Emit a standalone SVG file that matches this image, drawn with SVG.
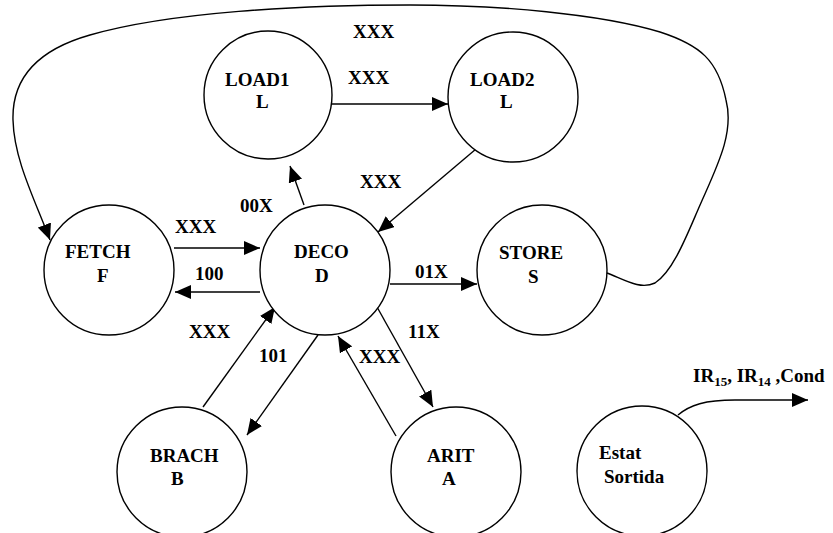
<svg xmlns="http://www.w3.org/2000/svg" width="833" height="533" viewBox="0 0 833 533">
<style>
.n{fill:#fff;stroke:#000;stroke-width:1.4}
.t{font-family:'Liberation Serif','Times New Roman','DejaVu Serif',serif;font-weight:700;font-size:19px;fill:#000}
.c{fill:none;stroke:#000;stroke-width:1.4}
.a{marker-end:url(#ah)}
</style>
<defs>
<marker id="ah" markerUnits="userSpaceOnUse" markerWidth="16" markerHeight="14" refX="16" refY="7" orient="auto">
<path d="M0,0 L16,7 L0,14 z" fill="#000"/>
</marker>
</defs>
<g id="connectors">
<path class="c a" d="M607,273 C625,280 640,290 655,283 C672,272 685,240 697,212 C715,170 735,135 726,100 C718,60 700,45 660,32 C600,14 500,5 410,5 C300,5 170,12 90,35 C30,52 12,85 13,120 C14,160 35,200 50,240"/>
<line class="c a" x1="332" y1="104" x2="448" y2="104"/>
<line class="c a" x1="476" y1="149" x2="378" y2="232"/>
<line class="c a" x1="304" y1="205" x2="290" y2="166"/>
<line class="c a" x1="174" y1="248" x2="260" y2="248"/>
<line class="c a" x1="260" y1="292" x2="175" y2="292"/>
<line class="c a" x1="390" y1="284" x2="477" y2="284"/>
<line class="c a" x1="203" y1="407" x2="275" y2="307"/>
<line class="c a" x1="318" y1="335" x2="247" y2="435"/>
<line class="c a" x1="396" y1="436" x2="338" y2="336"/>
<line class="c a" x1="377" y1="307" x2="433" y2="407"/>
<path class="c a" d="M678,415 C690,405 705,400 735,400 L808,400"/>
</g>
<g id="load1"><circle class="n" cx="268" cy="95" r="64"/><text class="t" x="225" y="86">LOAD1</text><text class="t" x="256" y="108">L</text></g>
<g id="load2"><circle class="n" cx="513" cy="97" r="65"/><text class="t" x="470" y="86">LOAD2</text><text class="t" x="500" y="108">L</text></g>
<g id="fetch"><circle class="n" cx="109" cy="270" r="65"/><text class="t" x="65" y="258">FETCH</text><text class="t" x="97" y="282">F</text></g>
<g id="deco"><circle class="n" cx="325" cy="270" r="65"/><text class="t" x="294" y="258">DECO</text><text class="t" x="315" y="282">D</text></g>
<g id="store"><circle class="n" cx="542" cy="270" r="65"/><text class="t" x="499" y="259">STORE</text><text class="t" x="528" y="283">S</text></g>
<g id="brach"><circle class="n" cx="182" cy="472" r="65"/><text class="t" x="150" y="462">BRACH</text><text class="t" x="171" y="485">B</text></g>
<g id="arit"><circle class="n" cx="456" cy="472" r="65"/><text class="t" x="427" y="462">ARIT</text><text class="t" x="442" y="485">A</text></g>
<g id="estat"><circle class="n" cx="642" cy="471" r="65"/><text class="t" x="599" y="459">Estat</text><text class="t" x="604" y="483">Sortida</text></g>
<g id="labels">
<text class="t" x="353" y="38">XXX</text>
<text class="t" x="348" y="84">XXX</text>
<text class="t" x="360" y="188">XXX</text>
<text class="t" x="240" y="212">00X</text>
<text class="t" x="175" y="233">XXX</text>
<text class="t" x="195" y="280">100</text>
<text class="t" x="415" y="278">01X</text>
<text class="t" x="408" y="338">11X</text>
<text class="t" x="189" y="338">XXX</text>
<text class="t" x="259" y="362">101</text>
<text class="t" x="359" y="363">XXX</text>
<text class="t" x="693" y="382">IR<tspan font-size="13" dy="4">15</tspan><tspan dy="-4">, IR</tspan><tspan font-size="13" dy="4">14</tspan><tspan dy="-4"> ,Cond</tspan></text>
</g>
</svg>
